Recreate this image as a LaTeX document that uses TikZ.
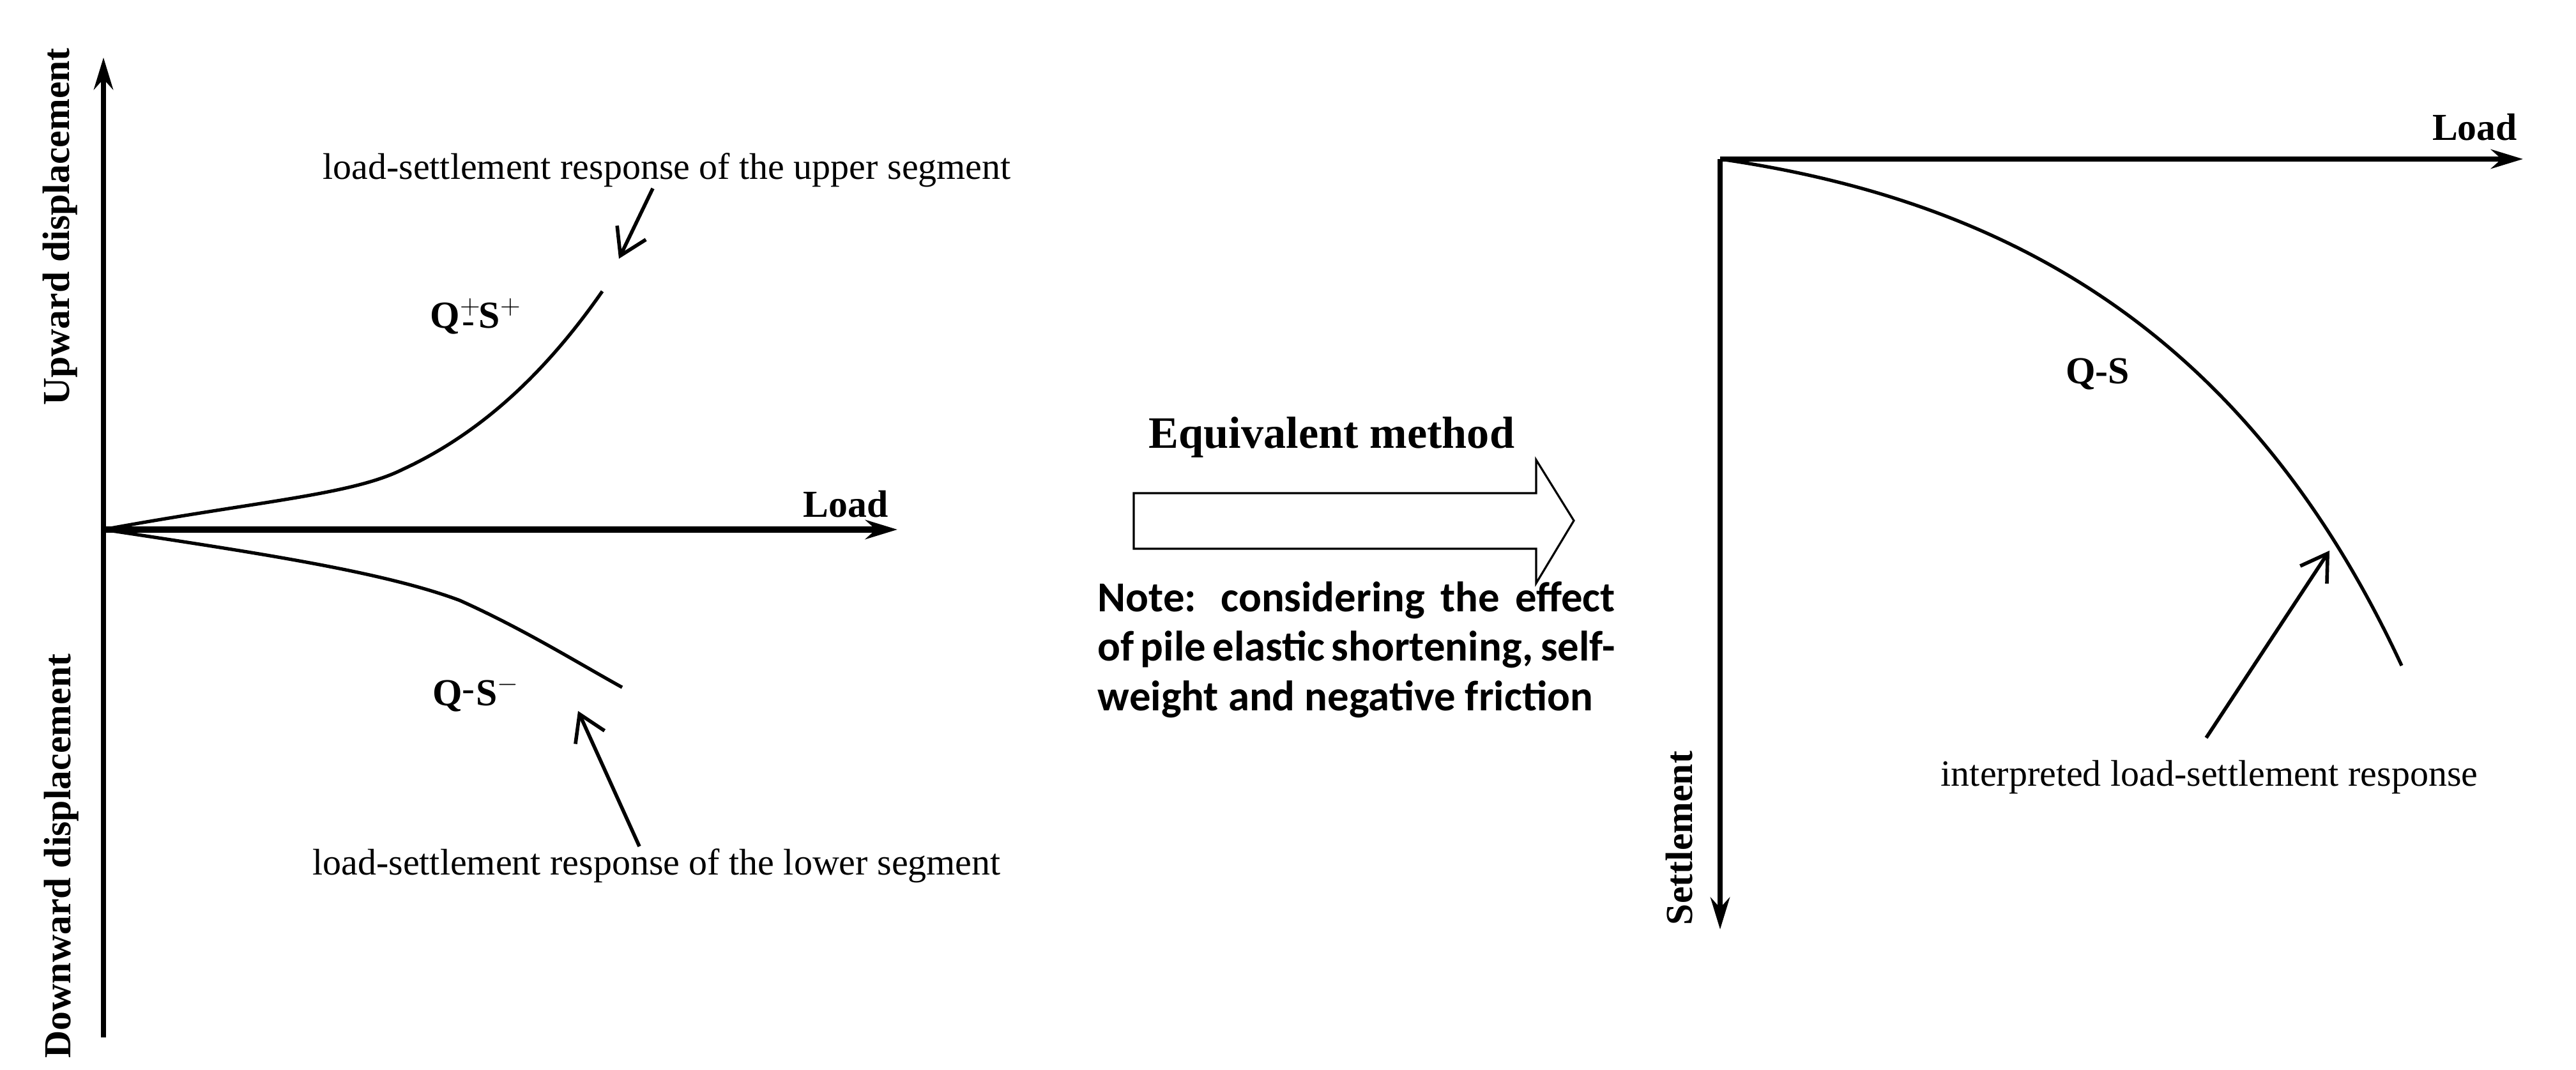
\documentclass[tikz,border=0pt]{standalone}
\usepackage{fontspec}
\setmainfont{Liberation Serif}
\newfontfamily\notefont{Carlito}
\usetikzlibrary{arrows.meta,positioning}
\tikzset{
  >=Stealth,
  axisline/.style={line width=2.4pt, -{Stealth[length=5mm,width=3mm]}},
  curve/.style={line width=1.5pt},
  pointer/.style={line width=1.6pt, -{Straight Barb[length=4mm,width=5mm]}},
  caption/.style={font=\fontsize{16.5}{20}\selectfont, inner sep=1pt},
  axlabel/.style={font=\fontsize{17}{20}\selectfont\bfseries, inner sep=1pt},
}
\begin{document}
\begin{tikzpicture}[
  curvelabel/.style={font=\fontsize{17}{20}\selectfont, inner sep=1pt},
]
\useasboundingbox (0,0) rectangle (40.33,16.75);

% --- Left chart: both segments ---
\coordinate (lo) at (1.62,8.46);
\coordinate (ltop) at (1.62,15.85);
\coordinate (lbot) at (1.62,0.51);
\coordinate (lright) at (14.05,8.46);
\draw[line width=2.4pt] (lbot) -- (lo);
\draw[axisline] (lo) -- (ltop);
\draw[axisline, line width=3pt] (lo) -- (lright);
\node[axlabel, above left=0.15cm and 0.1cm] (lload) at (lright) {Load};
\node[axlabel, rotate=90] (updisp) at (0.94,13.2) {Upward displacement};
\node[axlabel, rotate=90] (downdisp) at (0.96,3.35) {Downward displacement};

% upper and lower segment curves
\coordinate (uend) at (9.43,12.19);
\coordinate (dend) at (9.74,5.99);
\draw[curve] (lo) .. controls (4,8.9) and (5.5,9.0) .. (6.3,9.4)
  .. controls (7.6,10.0) and (8.6,11.0) .. (uend);
\draw[curve] (lo) .. controls (4,8.1) and (6,7.8) .. (7.2,7.35)
  .. controls (8.2,6.9) and (9.0,6.4) .. (dend);
\node[curvelabel] (qsup) at (7.45,11.8) {$\mathbf{Q^{+}\kern-0.5em\raisebox{-0.3ex}{-}\kern0.1em S^{+}}$};
\node[curvelabel] (qsdown) at (7.45,5.89) {$\mathbf{Q^{\raisebox{-0.6ex}{-}}S^{-}}$};

% pointers
\node[caption] (uppertext) at (10.44,14.09) {load-settlement response of the upper segment};
\node[caption] (lowertext) at (10.28,3.2) {load-settlement response of the lower segment};
\coordinate (utip) at (9.69,12.7);
\coordinate (dtip) at (9.05,5.62);
\draw[pointer] (10.22,13.8) -- (utip);
\draw[pointer] (10.01,3.5) -- (dtip);

% --- Middle: equivalent method ---
\draw[line width=0.9pt] (17.75,8.16) -- (24.05,8.16) -- (24.05,7.62) -- (24.64,8.6)
  -- (24.05,9.55) -- (24.05,9.03) -- (17.75,9.03) -- cycle;
\node[font=\fontsize{20}{24}\selectfont\bfseries] (equivtext) at (20.85,9.9) {Equivalent method};
\node[font=\notefont\fontsize{19}{22}\selectfont\bfseries, text width=8.1cm, align=justify,
  anchor=north west, inner sep=0pt] (note) at (17.18,7.65)
  {Note: considering the effect of pile elastic shortening, self-weight and negative friction};

% --- Right chart: interpreted curve ---
\coordinate (ro) at (26.93,14.26);
\coordinate (rright) at (39.5,14.26);
\coordinate (rbot) at (26.93,2.2);
\draw[axisline] (ro) -- (rright);
\draw[axisline] (ro) -- (rbot);
\node[axlabel, above left=0.25cm and 0.05cm] (rload) at (rright) {Load};
\node[axlabel, rotate=90] (settle) at (26.29,3.63) {Settlement};
\coordinate (rend) at (37.6,6.33);
\draw[curve] (ro) .. controls (31.5,13.6) and (35.2,11.5) .. (rend);
\node[curvelabel] (qs) at (32.84,10.89) {\textbf{Q-S}};
\node[caption] (interp) at (34.59,4.58) {interpreted load-settlement response};
\coordinate (rtip) at (36.47,8.13);
\draw[pointer] (34.54,5.2) -- (rtip);
\end{tikzpicture}
\end{document}
